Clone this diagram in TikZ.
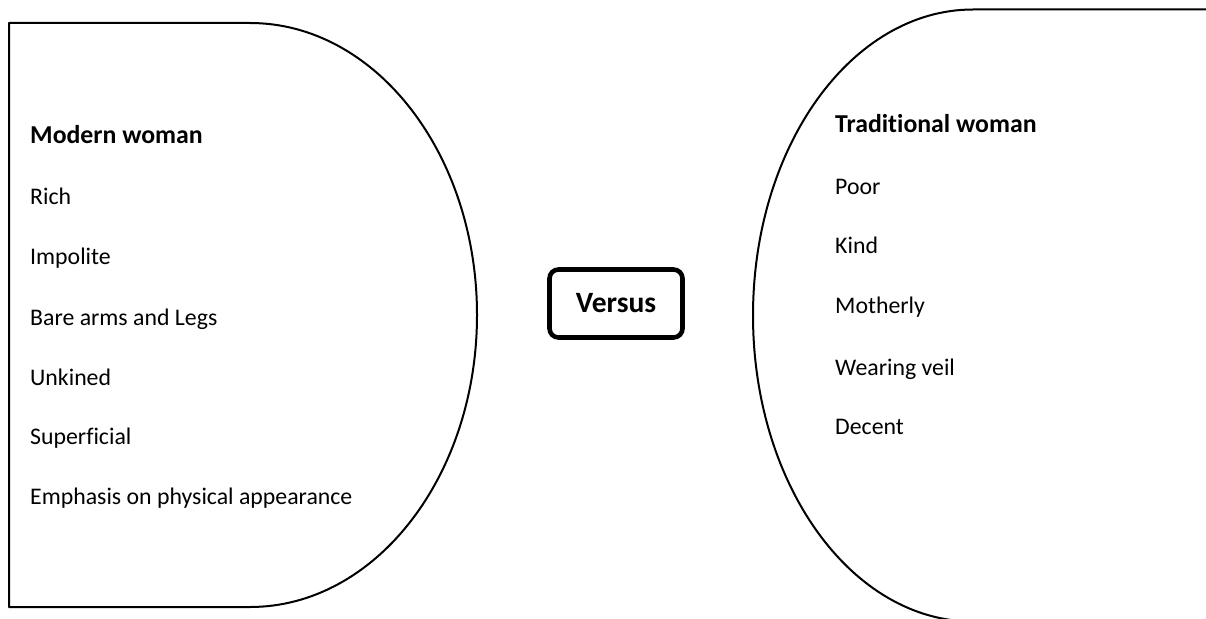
\documentclass[tikz,border=0pt]{standalone}
\usepackage{fontspec}
\setmainfont{Carlito}[Ligatures=NoCommon]
\begin{document}
\begin{tikzpicture}[x=1pt,y=-1pt,
  outline/.style={draw=black,line width=2pt,line join=round},
  item/.style={anchor=base west,inner sep=0pt,font=\fontsize{23.8}{28}\selectfont},
  heading/.style={anchor=base west,inner sep=0pt,font=\fontsize{25.8}{30}\selectfont\bfseries},
  versusbox/.style={draw=black,line width=4.6pt,rounded corners=9pt,minimum width=133pt,minimum height=68pt,inner sep=0pt,font=\fontsize{29.5}{34}\selectfont\bfseries}]
\useasboundingbox (0,0) rectangle (1206,618);

% left panel: box closed by a half ellipse
\draw[outline] (9,23) -- (250,23) arc[start angle=-90,end angle=90,x radius=227,y radius=292] -- (9,607) -- cycle;

% right panel: open on the right, running off the page
\draw[outline] (1210,9.5) -- (973,9.5) arc[start angle=-90,end angle=-270,x radius=220,y radius=306];

% left list
\node[heading] (modern) at (30,143) {Modern woman};
\node[item] (rich) at (30,204) {Rich};
\node[item] (impolite) at (30,264) {Impolite};
\node[item] (bare) at (30,325) {Bare arms and Legs};
\node[item] (unkined) at (30,385) {Unkined};
\node[item] (superficial) at (30,444) {Superficial};
\node[item] (emphasis) at (30,504) {Emphasis on physical appearance};

% right list
\node[heading] (traditional) at (835,132) {Traditional woman};
\node[item] (poor) at (835,194) {Poor};
\node[item] (kind) at (835,253) {Kind};
\node[item] (motherly) at (835,313) {Motherly};
\node[item] (veil) at (835,375) {Wearing veil};
\node[item] (decent) at (835,434) {Decent};

% centre label
\node[versusbox] (versus) at (616,303.5) {Versus};
\end{tikzpicture}
\end{document}
